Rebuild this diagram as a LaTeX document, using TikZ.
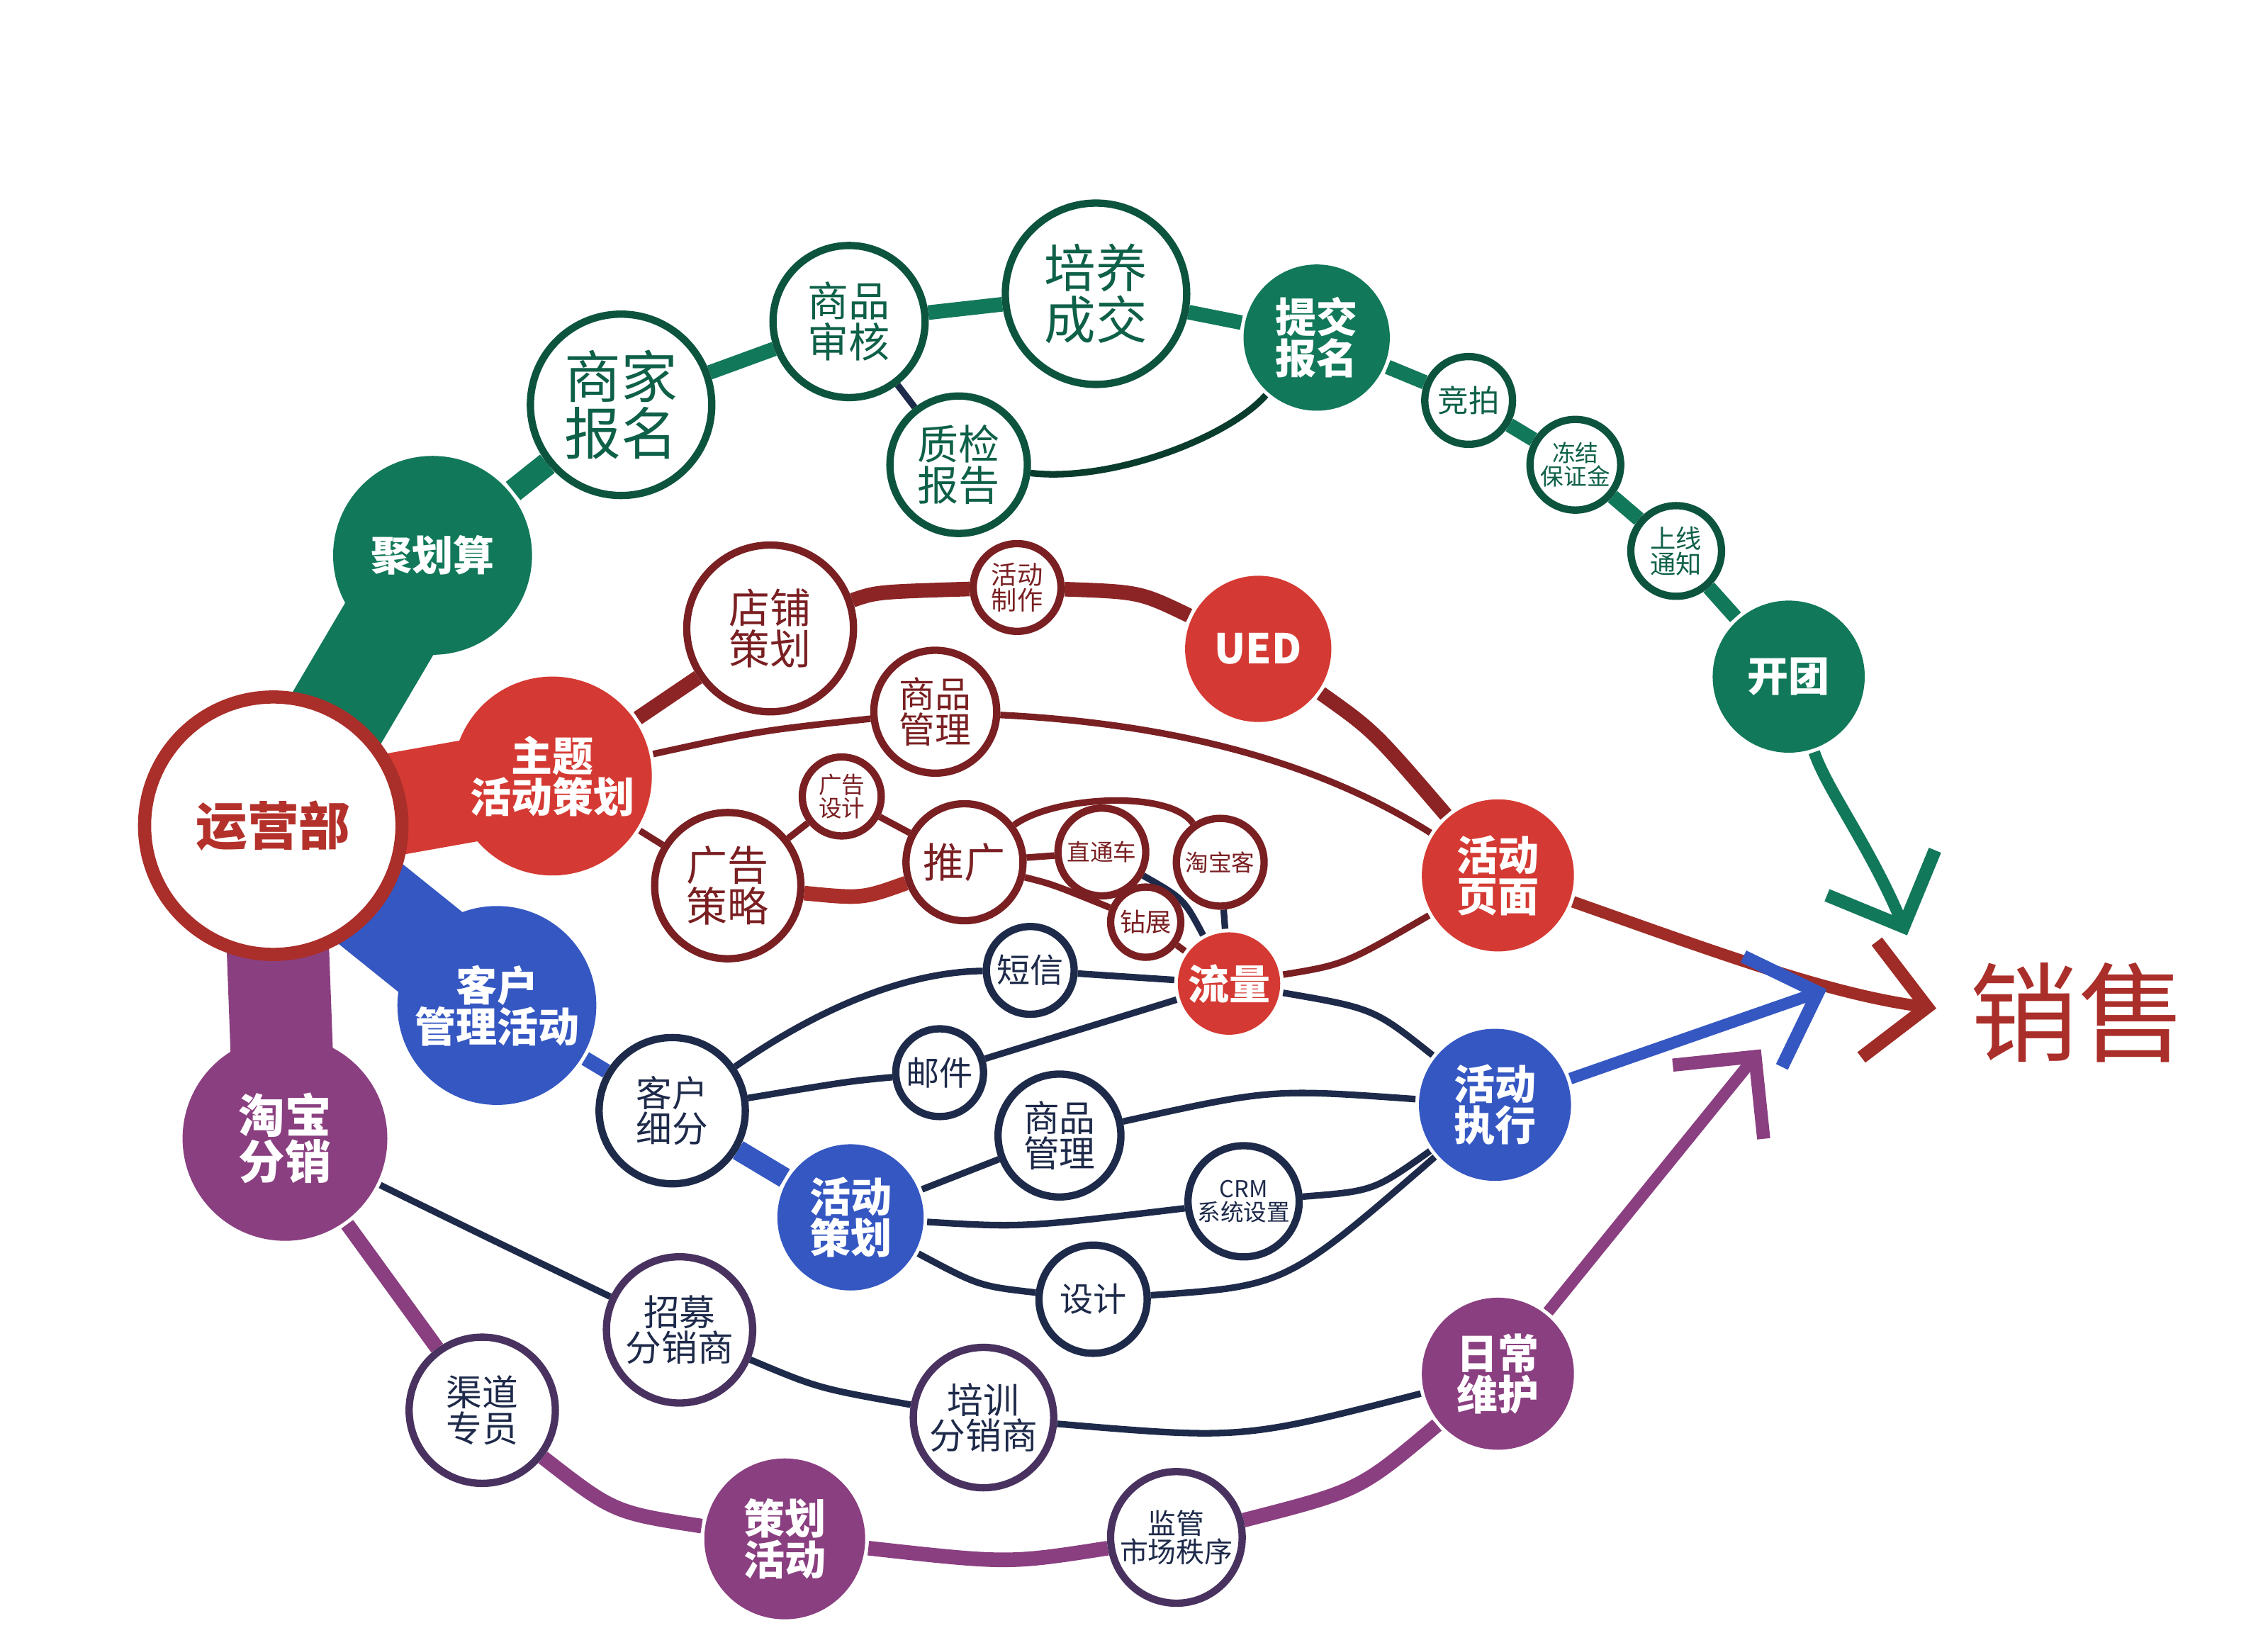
\documentclass[tikz,border=0pt]{standalone}
\usepackage{fontspec}
\setmainfont{Noto Sans CJK SC}
\usetikzlibrary{arrows.meta,backgrounds}
\definecolor{jgreen}{HTML}{12785A}
\definecolor{jred}{HTML}{D43A33}
\definecolor{jmaroon}{HTML}{7A1F22}
\definecolor{jblue}{HTML}{3557C2}
\definecolor{jnavy}{HTML}{1E2A4A}
\definecolor{jpurple}{HTML}{8A3F80}
\newcommand\fsz[1]{\fontsize{#1}{#1}\selectfont}
\tikzset{
  bub/.style={circle,inner sep=0pt,minimum size={#1*0.02cm},line width=0.5mm,align=center},
  gfull/.style={bub=#1,fill=jgreen,text=white,font=\bfseries\fsz{8pt}},
  gring/.style={bub=#1,draw=jgreen!70!black,fill=white,text=jgreen!80!black},
  rfull/.style={bub=#1,fill=jred,text=white,font=\bfseries\fsz{8pt}},
  rring/.style={bub=#1,draw=jmaroon,fill=white,text=jmaroon},
  bfull/.style={bub=#1,fill=jblue,text=white,font=\bfseries\fsz{8pt}},
  bring/.style={bub=#1,draw=jnavy,fill=white,text=jnavy},
  pfull/.style={bub=#1,fill=jpurple,text=white,font=\bfseries\fsz{9pt}},
  pring/.style={bub=#1,draw=jnavy!60!jpurple,fill=white,text=jnavy},
  thinl/.style={line width=0.45mm},
  midl/.style={line width=1mm},
  wedge/.style={line width=7mm},
  tip/.style={-{Straight Barb[length=4mm,width=8mm,line width=0.9mm]},line width=0.8mm}
}
\begin{document}
\begin{tikzpicture}[x=0.01cm,y=-0.01cm]
\useasboundingbox (0,0) rectangle (1552,1129);
% green branch
\node[gfull=68] (jhs) at (296,380) {聚划算};
\node[gring=62,font=\fsz{11pt}] (sjbm) at (425,277) {商家\\报名};
\node[gring=52,font=\fsz{8pt}] (sbsh) at (581,220) {商品\\审核};
\node[gring=47,font=\fsz{8pt}] (zjbg) at (656,318) {质检\\报告};
\node[gring=62,font=\fsz{10pt}] (pycj) at (750,201) {培养\\成交};
\node[gfull=50] (tjbm) at (901,231) {提交\\报名};
\node[gring=30,font=\fsz{6pt}] (jp) at (1005,274) {竞拍};
\node[gring=31,font=\fsz{4.5pt}] (djbz) at (1078,318) {冻结\\保证金};
\node[gring=31,font=\fsz{5pt}] (sxtz) at (1147,377) {上线\\通知};
\node[gfull=52] (kt) at (1224,463) {开团};
% red branch
\node[rring=88,line width=0.9mm,draw=jred!80!black,text=jred!85!black,font=\bfseries\fsz{10pt}] (yyb) at (187,565) {运营部};
\node[rfull=68] (ztch) at (378,531) {主题\\活动策划};
\node[rring=57,font=\fsz{8pt}] (dpch) at (527,430) {店铺\\策划};
\node[rring=30,font=\fsz{5pt}] (hdzz) at (696,402) {活动\\制作};
\node[rfull=50] (ued) at (861,444) {UED};
\node[rring=42,font=\fsz{7pt}] (spgl) at (640,487) {商品\\管理};
\node[rring=27,font=\fsz{4.5pt}] (ggsj) at (576,545) {广告\\设计};
\node[rring=50,font=\fsz{8pt}] (ggcl) at (498,606) {广告\\策略};
\node[rring=40,font=\fsz{8pt}] (tg) at (660,590) {推广};
\node[rring=30,font=\fsz{4.5pt}] (ztc) at (754,583) {直通车};
\node[rring=30,font=\fsz{4.5pt}] (tbk) at (835,590) {淘宝客};
\node[rring=24,font=\fsz{5pt}] (zz) at (784,631) {钻展};
\node[rfull=35] (ll) at (841,673) {流量};
\node[rfull=52] (hdym) at (1025,599) {活动\\页面};
% blue branch
\node[bfull=68] (khgl) at (340,688) {客户\\管理活动};
\node[bring=50,font=\fsz{7pt}] (khxf) at (460,760) {客户\\细分};
\node[bring=30,font=\fsz{6.5pt}] (dx) at (705,664) {短信};
\node[bring=30,font=\fsz{6.5pt}] (yj) at (643,734) {邮件};
\node[bring=42,font=\fsz{7pt}] (spgl2) at (725,777) {商品\\管理};
\node[bfull=50] (hdch) at (582,833) {活动\\策划};
\node[bring=38,font=\fsz{4.5pt}] (crm) at (851,822) {CRM\\系统设置};
\node[bring=37,font=\fsz{6.5pt}] (sj) at (748,889) {设计};
\node[bfull=52] (hdzx) at (1023,756) {活动\\执行};
% purple branch
\node[pfull=70] (tbfx) at (195,779) {淘宝\\分销};
\node[pring=50,font=\fsz{7pt}] (zmfx) at (465,910) {招募\\分销商};
\node[pring=50,font=\fsz{7pt}] (qdzy) at (330,965) {渠道\\专员};
\node[pring=48,font=\fsz{7pt}] (pxfx) at (673,970) {培训\\分销商};
\node[pfull=55,font=\bfseries\fsz{8pt}] (chhd) at (537,1053) {策划\\活动};
\node[pring=45,font=\fsz{5.5pt}] (jgsc) at (805,1052) {监管\\市场秩序};
\node[pfull=52,font=\bfseries\fsz{8pt}] (rcwh) at (1025,940) {日常\\维护};
\node[text=jred!80!black,font=\fsz{21pt}] (xs) at (1422,693) {销售};
\coordinate (gend) at (1305,640);
\coordinate (rend) at (1325,690);
\coordinate (bend) at (1250,677);
\coordinate (pend) at (1205,718);
\begin{scope}[on background layer]
  % green
  \draw[wedge,jgreen] (yyb.center) -- (jhs.center);
  \draw[jgreen,line width=1.6mm] (jhs) -- (sjbm);
  \draw[midl,jgreen] (sjbm) -- (sbsh) -- (pycj) -- (tjbm) -- (jp) -- (djbz) -- (sxtz) -- (kt);
  \draw[thinl,jnavy] (sbsh) -- (zjbg);
  \draw[thinl,jgreen!50!black] (zjbg) .. controls (760,330) and (840,300) .. (tjbm);
  \draw[tip,jgreen] (kt) .. controls (1250,540) and (1280,580) .. (gend);
  % red
  \draw[wedge,jred] (yyb.center) -- (ztch.center);
  \draw[midl,jmaroon!80!jred] (ztch) -- (dpch);
  \draw[midl,jmaroon!80!jred] (dpch) .. controls (600,405) .. (hdzz);
  \draw[midl,jmaroon!80!jred] (hdzz) .. controls (780,405) .. (ued);
  \draw[midl,jmaroon!80!jred] (ued) .. controls (940,500) .. (hdym);
  \draw[thinl,jmaroon] (ztch) .. controls (520,500) .. (spgl);
  \draw[thinl,jmaroon] (spgl) .. controls (800,495) and (900,520) .. (hdym);
  \draw[thinl,jmaroon] (ztch) -- (ggcl);
  \draw[thinl,jmaroon] (ggcl) -- (ggsj) -- (tg);
  \draw[midl,jred!80!black] (ggcl) .. controls (590,615) .. (tg);
  \draw[thinl,jmaroon] (tg) -- (ztc);
  \draw[thinl,jmaroon] (tg) .. controls (720,545) and (800,540) .. (tbk);
  \draw[thinl,jmaroon] (tg) .. controls (720,605) .. (zz) -- (ll);
  \draw[thinl,jnavy] (ztc) .. controls (810,615) .. (ll);
  \draw[thinl,jnavy] (tbk) -- (ll);
  \draw[thinl,jmaroon] (ll) .. controls (920,660) .. (hdym);
  \draw[tip,jred!75!black] (hdym) .. controls (1170,650) and (1250,680) .. (rend);
  % blue
  \draw[wedge,jblue] (yyb.center) -- (khgl.center);
  \draw[midl,jblue] (khgl) -- (khxf);
  \draw[jblue,line width=1.4mm] (khxf) -- (hdch);
  \draw[thinl,jnavy] (khxf) .. controls (560,690) and (620,665) .. (dx) -- (ll);
  \draw[thinl,jnavy] (khxf) .. controls (580,740) .. (yj) -- (ll);
  \draw[thinl,jnavy] (ll) .. controls (940,690) .. (hdzx);
  \draw[thinl,jnavy] (hdch) -- (spgl2) .. controls (870,745) .. (hdzx);
  \draw[thinl,jnavy] (hdch) .. controls (700,840) .. (crm) .. controls (940,815) .. (hdzx);
  \draw[thinl,jnavy] (hdch) .. controls (670,880) .. (sj) .. controls (880,880) .. (hdzx);
  \draw[tip,jblue] (hdzx) -- (bend);
  % purple
  \draw[wedge,jpurple] (yyb.center) -- (tbfx.center);
  \draw[thinl,jnavy] (tbfx) .. controls (340,850) .. (zmfx);
  \draw[thinl,jnavy] (zmfx) .. controls (560,950) .. (pxfx);
  \draw[thinl,jnavy] (pxfx) .. controls (850,985) .. (rcwh);
  \draw[midl,jpurple] (tbfx) -- (qdzy);
  \draw[midl,jpurple] (qdzy) .. controls (420,1035) .. (chhd);
  \draw[midl,jpurple] (chhd) .. controls (690,1070) .. (jgsc);
  \draw[midl,jpurple] (jgsc) .. controls (930,1020) .. (rcwh);
  \draw[tip,jpurple] (rcwh) -- (pend);
\end{scope}
\end{tikzpicture}
\end{document}
